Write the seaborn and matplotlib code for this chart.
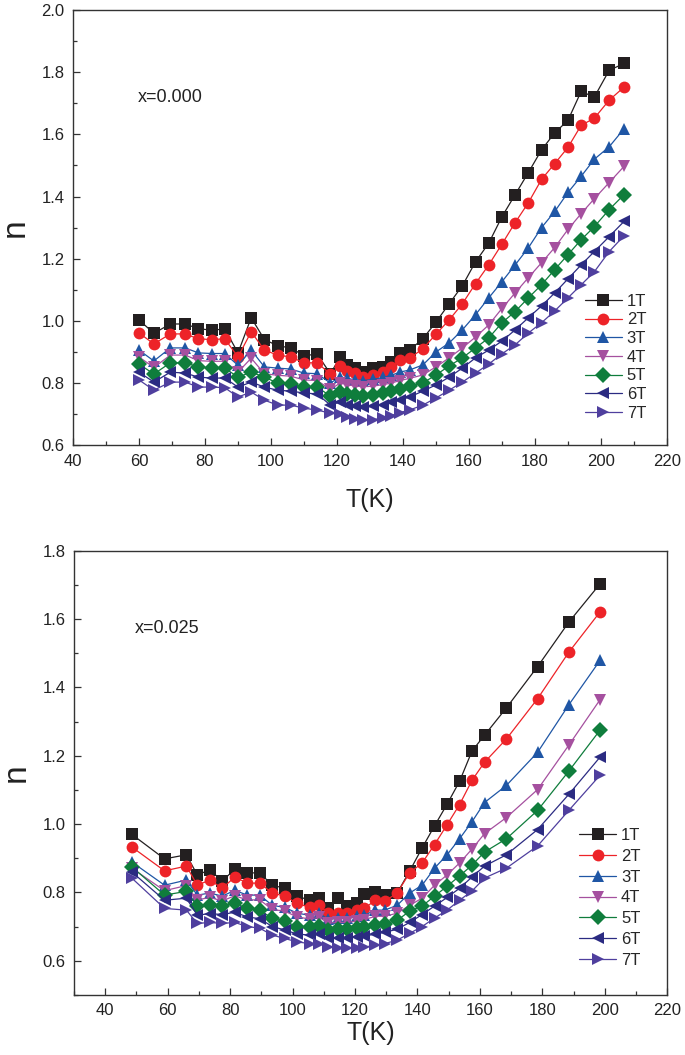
import numpy as np
import pandas as pd
import matplotlib
matplotlib.use("Agg")
import matplotlib.pyplot as plt
from matplotlib.ticker import MultipleLocator
import seaborn as sns

# ---- data: panel x=0.000 ----
T_top = [60, 64.5, 69.5, 74, 78, 82, 86, 90, 94, 98, 102, 106, 110, 114, 118,
         121, 123, 125.5, 128, 131, 134, 136.5, 139, 142, 146, 150, 154, 158,
         162, 166, 170, 174, 178, 182, 186, 190, 194, 198, 202.5, 207]
n1_top = [1.003, 0.96, 0.99, 0.99, 0.975, 0.97, 0.974, 0.897, 1.01, 0.94, 0.92, 0.913, 0.888, 0.893, 0.83,
          0.884, 0.858, 0.848, 0.836, 0.848, 0.853, 0.868, 0.897, 0.906, 0.942, 0.996, 1.055, 1.113,
          1.19, 1.25, 1.335, 1.406, 1.477, 1.55, 1.605, 1.645, 1.738, 1.72, 1.806, 1.828]
n2_top = [0.961, 0.926, 0.958, 0.958, 0.942, 0.94, 0.942, 0.884, 0.965, 0.906, 0.89, 0.884, 0.865, 0.865, 0.829,
          0.855, 0.84, 0.832, 0.82, 0.826, 0.835, 0.852, 0.874, 0.88, 0.91, 0.957, 1.003, 1.055,
          1.12, 1.18, 1.247, 1.316, 1.38, 1.455, 1.506, 1.558, 1.629, 1.652, 1.71, 1.752]
n3_top = [0.906, 0.871, 0.913, 0.913, 0.897, 0.895, 0.895, 0.857, 0.906, 0.852, 0.848, 0.845, 0.832, 0.83, 0.8,
          0.82, 0.815, 0.81, 0.808, 0.812, 0.818, 0.825, 0.835, 0.842, 0.858, 0.9, 0.929, 0.971,
          1.02, 1.074, 1.126, 1.18, 1.235, 1.3, 1.352, 1.413, 1.465, 1.52, 1.56, 1.618]
n4_top = [0.884, 0.85, 0.89, 0.89, 0.872, 0.87, 0.87, 0.835, 0.88, 0.83, 0.825, 0.822, 0.81, 0.808, 0.78,
          0.8, 0.795, 0.79, 0.788, 0.79, 0.795, 0.8, 0.808, 0.815, 0.826, 0.852, 0.881, 0.913,
          0.948, 0.987, 1.04, 1.09, 1.139, 1.187, 1.236, 1.294, 1.345, 1.393, 1.445, 1.497]
n5_top = [0.861, 0.829, 0.865, 0.865, 0.852, 0.848, 0.848, 0.819, 0.835, 0.819, 0.8, 0.797, 0.787, 0.787, 0.758,
          0.77, 0.765, 0.76, 0.758, 0.762, 0.768, 0.775, 0.782, 0.79, 0.8, 0.826, 0.855, 0.881,
          0.913, 0.945, 0.994, 1.03, 1.074, 1.116, 1.165, 1.213, 1.261, 1.303, 1.358, 1.406]
n6_top = [0.835, 0.803, 0.835, 0.832, 0.819, 0.816, 0.816, 0.787, 0.803, 0.787, 0.777, 0.774, 0.768, 0.765, 0.729,
          0.739, 0.73, 0.725, 0.722, 0.725, 0.73, 0.738, 0.745, 0.755, 0.774, 0.794, 0.819, 0.848,
          0.881, 0.906, 0.935, 0.971, 1.01, 1.048, 1.09, 1.135, 1.18, 1.223, 1.271, 1.32]
n7_top = [0.81, 0.777, 0.803, 0.803, 0.787, 0.787, 0.785, 0.755, 0.771, 0.745, 0.729, 0.729, 0.719, 0.713, 0.703,
          0.7, 0.69, 0.685, 0.68, 0.682, 0.688, 0.695, 0.705, 0.713, 0.729, 0.752, 0.777, 0.803,
          0.832, 0.861, 0.894, 0.923, 0.961, 0.994, 1.032, 1.074, 1.116, 1.158, 1.223, 1.274]

# ---- data: panel x=0.025 ----
T_bot = [48.5, 59, 66, 69.5, 73.5, 77.5, 81.5, 85.5, 89.5, 93.5, 97.5, 101.5, 105.5, 108.5, 111.5,
         114.5, 117.5, 120.5, 123, 126.5, 129.5, 133.5, 137.5, 141.5, 145.5, 149.5, 153.5, 157.5,
         161.5, 168.5, 178.5, 188.5, 198.5]
n1_bot = [0.97, 0.898, 0.91, 0.851, 0.866, 0.833, 0.868, 0.857, 0.857, 0.821, 0.812, 0.789, 0.777, 0.783, 0.755,
          0.783, 0.76, 0.768, 0.795, 0.8, 0.792, 0.798, 0.862, 0.93, 0.995, 1.058, 1.125, 1.214,
          1.26, 1.34, 1.461, 1.591, 1.703]
n2_bot = [0.933, 0.863, 0.877, 0.821, 0.836, 0.812, 0.845, 0.827, 0.827, 0.798, 0.789, 0.768, 0.756, 0.762, 0.739,
          0.739, 0.739, 0.748, 0.753, 0.777, 0.774, 0.798, 0.857, 0.886, 0.94, 0.998, 1.057, 1.128,
          1.181, 1.249, 1.367, 1.503, 1.621]
n3_bot = [0.889, 0.821, 0.836, 0.792, 0.798, 0.789, 0.806, 0.792, 0.792, 0.762, 0.756, 0.739, 0.733, 0.739, 0.721,
          0.724, 0.724, 0.73, 0.733, 0.748, 0.748, 0.762, 0.798, 0.821, 0.871, 0.91, 0.957, 1.007,
          1.063, 1.113, 1.21, 1.349, 1.479]
n4_bot = [0.871, 0.805, 0.82, 0.778, 0.785, 0.775, 0.79, 0.778, 0.778, 0.75, 0.745, 0.728, 0.722, 0.727, 0.71,
          0.712, 0.712, 0.716, 0.72, 0.73, 0.73, 0.739, 0.762, 0.783, 0.821, 0.851, 0.886, 0.927,
          0.972, 1.019, 1.101, 1.231, 1.364]
n5_bot = [0.875, 0.792, 0.803, 0.76, 0.762, 0.76, 0.768, 0.753, 0.748, 0.724, 0.715, 0.7, 0.7, 0.703, 0.69,
          0.692, 0.692, 0.695, 0.698, 0.705, 0.708, 0.718, 0.745, 0.76, 0.789, 0.818, 0.848, 0.88,
          0.918, 0.957, 1.04, 1.155, 1.275]
n6_bot = [0.86, 0.777, 0.783, 0.733, 0.738, 0.735, 0.742, 0.728, 0.723, 0.7, 0.69, 0.678, 0.675, 0.678, 0.667,
          0.667, 0.667, 0.67, 0.672, 0.678, 0.683, 0.692, 0.712, 0.735, 0.76, 0.785, 0.812, 0.845,
          0.877, 0.91, 0.984, 1.087, 1.196]
n7_bot = [0.842, 0.753, 0.748, 0.709, 0.712, 0.709, 0.712, 0.7, 0.695, 0.675, 0.665, 0.655, 0.65, 0.65, 0.64,
          0.638, 0.636, 0.638, 0.64, 0.645, 0.65, 0.66, 0.68, 0.7, 0.725, 0.748, 0.777, 0.804,
          0.842, 0.871, 0.936, 1.04, 1.143]

fields = ["1T", "2T", "3T", "4T", "5T", "6T", "7T"]
colors = ["#231f20", "#ed2328", "#1f56a5", "#a5509f", "#0f7d3c", "#2b2b82", "#4f3f9e"]
marks = ["s", "o", "^", "v", "D", "<", ">"]


def long_df(T, series):
    rows = []
    for f, vals in zip(fields, series):
        for t, v in zip(T, vals):
            rows.append((t, v, f))
    return pd.DataFrame(rows, columns=["T", "n", "field"])


df_top = long_df(T_top, [n1_top, n2_top, n3_top, n4_top, n5_top, n6_top, n7_top])
df_bot = long_df(T_bot, [n1_bot, n2_bot, n3_bot, n4_bot, n5_bot, n6_bot, n7_bot])

sns.set_style("white")
plt.rcParams["font.family"] = ["Liberation Sans", "DejaVu Sans"]

fig = plt.figure(figsize=(6.85, 10.55), dpi=100)
ax1 = fig.add_axes([0.1066, 0.578, 0.867, 0.4125])
ax2 = fig.add_axes([0.108, 0.057, 0.866, 0.421])

palette = dict(zip(fields, colors))
markers = dict(zip(fields, marks))


def draw(ax, df, xlim, ylim, label, label_pos, leg_anchor, leg_space, xpad):
    sns.lineplot(data=df, x="T", y="n", hue="field", style="field", palette=palette,
                 markers=markers, dashes=False, estimator=None, errorbar=None, sort=False,
                 markersize=8.5, markeredgewidth=0, linewidth=0.9, ax=ax)
    ax.set_xlim(*xlim)
    ax.set_ylim(*ylim)
    ax.xaxis.set_minor_locator(MultipleLocator(10))
    ax.yaxis.set_minor_locator(MultipleLocator(0.1))
    ax.set_xticks(np.arange(40, 221, 20))
    ax.set_yticks([t for t in np.arange(0.6, ylim[1] + 0.01, 0.2)])
    ax.yaxis.set_major_formatter(plt.FormatStrFormatter("%.1f"))
    ax.tick_params(which="both", direction="in", bottom=True, left=True, top=False, right=False,
                   labelsize=12, color="#333333", labelcolor="#222222", pad=6)
    ax.tick_params(which="major", length=5, width=0.9)
    ax.tick_params(which="minor", length=3, width=0.9)
    for s in ax.spines.values():
        s.set_color("#333333")
        s.set_linewidth(1.0)
    ax.set_xlabel("T(K)", fontsize=18, color="#222222", labelpad=xpad)
    ax.set_ylabel("n", fontsize=24, color="#222222", labelpad=8)
    ax.text(label_pos[0], label_pos[1], label, transform=ax.transAxes, fontsize=13,
            color="#222222", va="center", ha="left")
    old = ax.get_legend()
    handles = old.legend_handles
    labels = [t.get_text() for t in old.texts]
    old.remove()
    ax.legend(handles, labels, loc="upper left", bbox_to_anchor=leg_anchor, frameon=False,
              fontsize=12, handlelength=2.2, handletextpad=0.3, labelspacing=leg_space,
              borderaxespad=0, borderpad=0)


draw(ax1, df_top, (40, 220), (0.6, 2.0), "x=0.000", (0.109, 0.80), (0.862, 0.348), 0.22, 14)
draw(ax2, df_bot, (30, 220), (0.5, 1.8), "x=0.025", (0.103, 0.824), (0.852, 0.376), 0.35, 2)

fig.savefig("out.png", dpi=100)
